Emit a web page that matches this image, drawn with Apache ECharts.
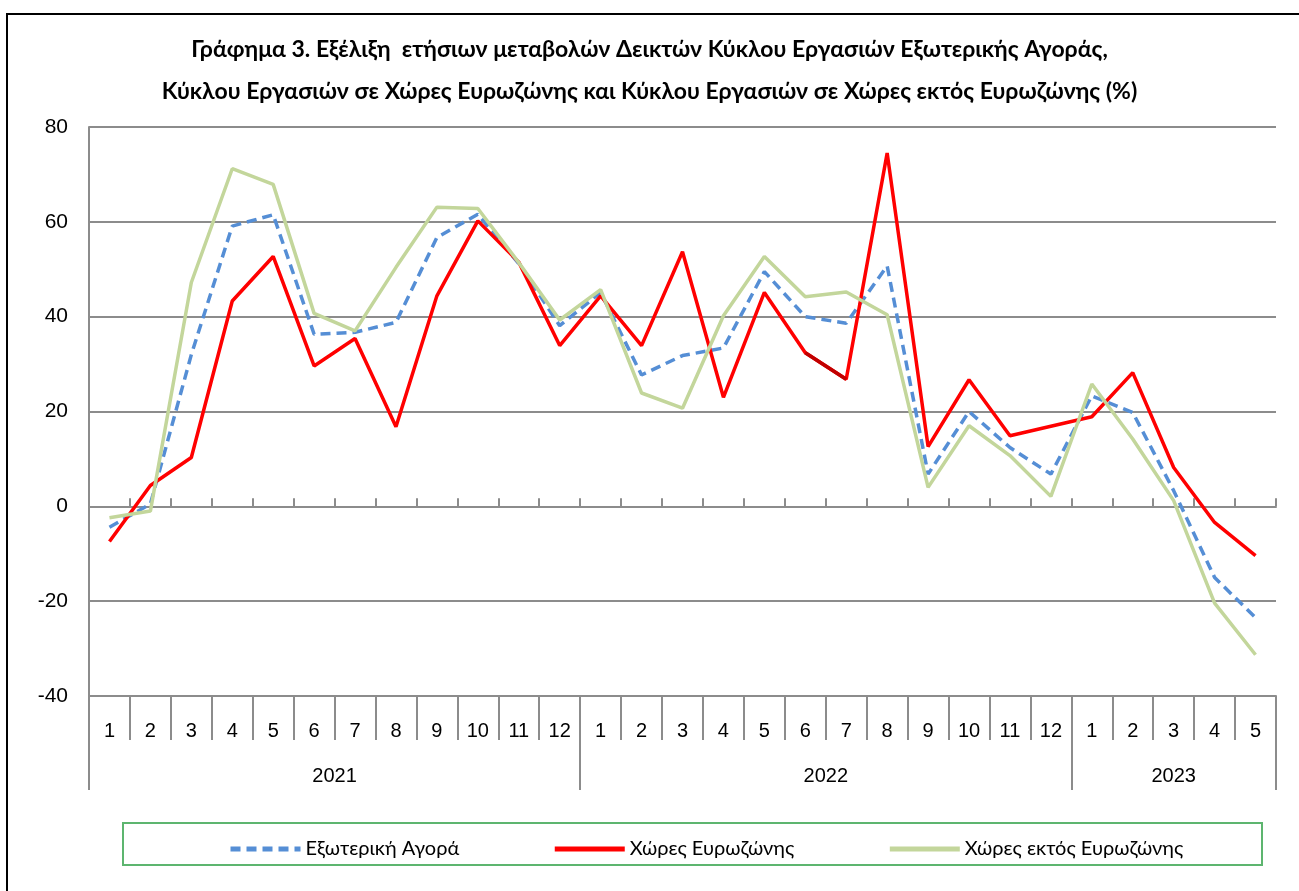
<!DOCTYPE html>
<html><head><meta charset="utf-8">
<script src="https://cdn.jsdelivr.net/npm/echarts@6/dist/echarts.min.js"></script>
<style>html,body{margin:0;padding:0;background:#fff}#c{width:1299px;height:891px}</style>
</head><body><div id="c"></div>
<script>
// ---- data ----
const months = ['1','2','3','4','5','6','7','8','9','10','11','12',
                '1','2','3','4','5','6','7','8','9','10','11','12',
                '1','2','3','4','5'];
const years = ['2021','2022','2023'];
const monthsPerYear = [12, 12, 5];
const yMin = -40, yMax = 80, yInterval = 20;

const seriesNames = ['Εξωτερική Αγορά', 'Χώρες Ευρωζώνης', 'Χώρες εκτός Ευρωζώνης'];
const foreignMarket = [-4.4, 0.5, 32.0, 59.1, 61.5, 36.3, 36.7, 38.8, 56.7, 61.6, 51.2, 38.1,
                       45.1, 27.7, 31.8, 33.4, 49.5, 40.0, 38.6, 50.7, 6.8, 20.0, 12.4, 6.8,
                       23.3, 19.8, 3.3, -15.0, -23.5];
const eurozone = [-7.4, 4.4, 10.3, 43.3, 52.7, 29.6, 35.4, 16.8, 44.4, 60.2, 51.5, 33.9,
                  44.4, 33.9, 53.7, 23.0, 45.1, 32.4, 26.8, 74.5, 12.6, 26.7, 14.9, 16.9,
                  18.9, 28.2, 8.2, -3.4, -10.4];
const nonEurozone = [-2.4, -1.0, 47.2, 71.2, 67.9, 40.7, 37.0, 50.4, 63.1, 62.8, 51.4, 39.3,
                     45.7, 23.9, 20.7, 40.2, 52.7, 44.2, 45.2, 40.4, 4.0, 17.0, 10.7, 2.1,
                     25.8, 14.2, 1.2, -20.4, -31.3];
// segment drawn in dark red in the original (between these two points)
const darkSegment = [17, 18];

// ---- derived ----
const yearOfIndex = [];
const groupStart = [];
years.forEach((y, g) => { groupStart.push(yearOfIndex.length); for (let k = 0; k < monthsPerYear[g]; k++) yearOfIndex.push(y); });
const yearMid = {};
years.forEach((y, g) => {
  const n = monthsPerYear[g];
  yearMid[groupStart[g] + Math.floor((n - 1) / 2)] = (n % 2 === 0);
});
const yearTickAt = {};
groupStart.forEach(s => yearTickAt[s] = true);
const darkData = eurozone.map((v, i) => darkSegment.includes(i) ? v : null);

const grey = '#8c8c8c';
const axisFont = 'Liberation Sans';
const textFont = 'Lato';

const chart = echarts.init(document.getElementById('c'), null, {renderer: 'canvas'});
chart.setOption({
  backgroundColor: '#fff',
  animation: false,
  title: {
    text: 'Γράφημα 3. Εξέλιξη  ετήσιων μεταβολών Δεικτών Κύκλου Εργασιών Εξωτερικής Αγοράς,\nΚύκλου Εργασιών σε Χώρες Ευρωζώνης και Κύκλου Εργασιών σε Χώρες εκτός Ευρωζώνης (%)',
    left: 'center', top: 24,
    textStyle: {fontFamily: textFont, fontWeight: 'bold', fontSize: 23, lineHeight: 42, color: '#000'}
  },
  graphic: [
    {type: 'rect', shape: {x: 7, y: 14, width: 1320, height: 900}, style: {fill: 'none', stroke: '#000', lineWidth: 2}, silent: true},
    {type: 'rect', shape: {x: 123, y: 823, width: 1139, height: 42}, style: {fill: 'none', stroke: '#5db56f', lineWidth: 2}, silent: true}
  ],
  legend: {
    data: seriesNames,
    left: 223, top: 834,
    itemWidth: 70, itemHeight: 16, itemGap: 93,
    itemStyle: {opacity: 0},
    lineStyle: {width: 5},
    textStyle: {fontFamily: textFont, fontSize: 20, color: '#000'}
  },
  grid: {left: 89, right: 23, top: 127, bottom: 195, containLabel: false},
  xAxis: [
    {
      type: 'category', data: months, boundaryGap: true, position: 'bottom',
      axisLine: {onZero: true, lineStyle: {color: grey, width: 2}},
      axisTick: {show: true, inside: true, length: 8, interval: 0, lineStyle: {color: grey, width: 2}},
      axisLabel: {show: false}, splitLine: {show: false}
    },
    {
      type: 'category', data: months, boundaryGap: true, position: 'bottom',
      axisLine: {onZero: false, show: true, lineStyle: {color: grey, width: 2}},
      axisTick: {show: true, inside: false, length: 44, interval: 0, lineStyle: {color: grey, width: 2}},
      axisLabel: {show: true, interval: 0, margin: 25, fontFamily: axisFont, fontSize: 20, color: '#000'},
      splitLine: {show: false}
    },
    {
      type: 'category', data: yearOfIndex, boundaryGap: true, position: 'bottom',
      axisLine: {onZero: false, show: false},
      axisTick: {show: true, inside: false, length: 94, interval: (i) => !!yearTickAt[i], lineStyle: {color: grey, width: 2}},
      axisLabel: {
        show: true, margin: 70, color: '#000', fontFamily: axisFont, fontSize: 20,
        interval: (i) => (i in yearMid),
        formatter: (v, i) => (yearMid[i] ? '{s|' + v + '}' : '{n|' + v + '}'),
        rich: {
          s: {padding: [0, 0, 0, 41], fontFamily: axisFont, fontSize: 20, color: '#000'},
          n: {fontFamily: axisFont, fontSize: 20, color: '#000'}
        }
      },
      splitLine: {show: false}
    }
  ],
  yAxis: {
    type: 'value', min: yMin, max: yMax, interval: yInterval,
    axisLine: {show: true, lineStyle: {color: grey, width: 2}},
    axisTick: {show: false},
    axisLabel: {margin: 21, fontFamily: axisFont, fontSize: 21, color: '#000'},
    splitLine: {show: true, lineStyle: {color: grey, width: 2}}
  },
  series: [
    {name: seriesNames[0], type: 'line', xAxisIndex: 0, data: foreignMarket, showSymbol: false, symbol: 'none',
     lineStyle: {color: '#558ed5', width: 3.5, type: [10, 6]}, itemStyle: {color: '#558ed5'}, z: 2},
    {name: seriesNames[1], type: 'line', xAxisIndex: 0, data: eurozone, showSymbol: false, symbol: 'none',
     lineStyle: {color: '#ff0000', width: 3.5}, itemStyle: {color: '#ff0000'}, z: 3},
    {name: 'seg', type: 'line', xAxisIndex: 0, data: darkData, showSymbol: false, symbol: 'none',
     lineStyle: {color: '#c00000', width: 3.5}, itemStyle: {color: '#c00000'}, z: 4},
    {name: seriesNames[2], type: 'line', xAxisIndex: 0, data: nonEurozone, showSymbol: false, symbol: 'none',
     lineStyle: {color: '#c3d69b', width: 3.5}, itemStyle: {color: '#c3d69b'}, z: 5}
  ]
});
</script>
</body></html>
